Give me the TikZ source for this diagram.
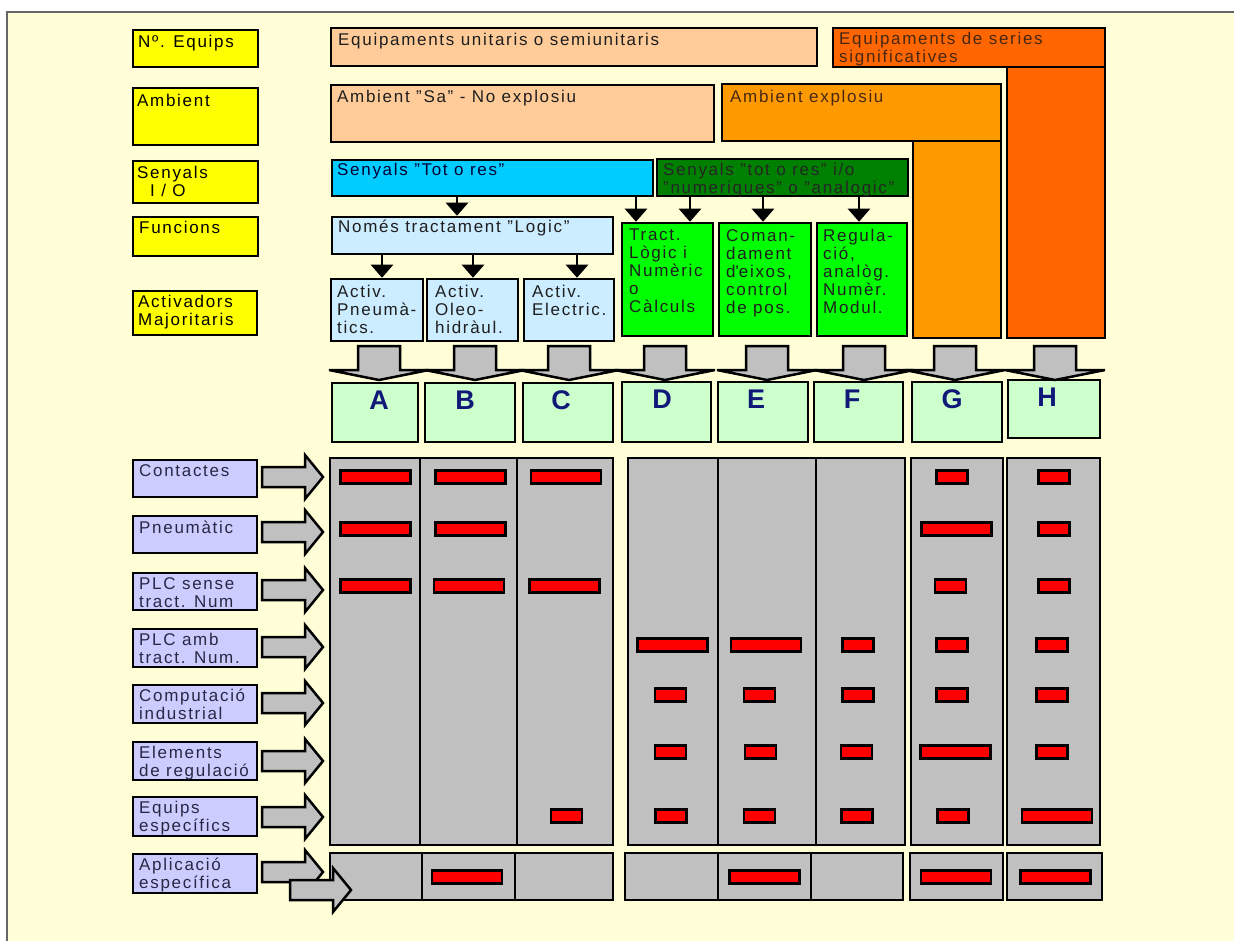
\documentclass[tikz,border=0pt]{standalone}
\usepackage{fontspec}
\setmainfont[LetterSpace=10]{Liberation Sans}
\newfontfamily\letterfont{Liberation Sans}
\usetikzlibrary{fit,arrows.meta}
\definecolor{bgc}{RGB}{255,254,214}
\definecolor{yel}{RGB}{255,255,0}
\definecolor{peach}{RGB}{255,204,153}
\definecolor{orng}{RGB}{255,153,0}
\definecolor{redorg}{RGB}{255,102,0}
\definecolor{cyanc}{RGB}{0,204,255}
\definecolor{dkgreen}{RGB}{0,128,0}
\definecolor{ltblue}{RGB}{204,236,255}
\definecolor{brgreen}{RGB}{0,255,0}
\definecolor{ltgreen}{RGB}{204,255,204}
\definecolor{lav}{RGB}{204,204,255}
\definecolor{gry}{RGB}{192,192,192}
\definecolor{navy}{RGB}{16,24,120}
\definecolor{txtc}{RGB}{30,30,30}
\definecolor{lavtxt}{RGB}{40,40,70}
\definecolor{brtxt}{RGB}{70,40,20}
\newcommand\downblk[1]{\draw[blk] (#1-21,346) -- (#1+21,346) -- (#1+21,370) -- (#1+50,370) -- (#1,380) -- (#1-50,370) -- (#1-21,370) -- cycle;}
\newcommand\rightblk[2]{\draw[blk] (#1,#2-10) -- (#1+43,#2-10) -- (#1+43,#2-22) -- (#1+61,#2) -- (#1+43,#2+22) -- (#1+43,#2+10) -- (#1,#2+10) -- cycle;}
\begin{document}
\begin{tikzpicture}[x=1pt,y=-1pt,
 box/.style={draw=black,line width=2.5pt,inner sep=0pt},
 txt/.style={font=\fontsize{17}{18}\selectfont,inner sep=0pt,anchor=north west,align=left,text=txtc},
 ltr/.style={font=\letterfont\fontsize{27}{27}\selectfont\bfseries,text=navy,inner sep=0pt},
 blk/.style={draw=black,fill=gry,line width=2.5pt,line join=miter},
 conn/.style={draw=black,line width=2.5pt,-{Triangle[width=22pt,length=13pt]}},
 bar/.style={draw=black,fill=red,line width=2.5pt,minimum height=13pt,inner sep=0pt},
 longbar/.style={bar,minimum width=70pt},
 shortbar/.style={bar,minimum width=31pt},
]
\useasboundingbox (0,0) rectangle (1234,941);
\fill[white] (0,0) rectangle (1234,941);
\fill[bgc] (7,12) rectangle (1234,941);
\draw[black!60,line width=1.2pt] (7,941) -- (7,12) -- (1234,12);

% left yellow labels
\node[box,fill=yel,fit={(133,30)(258,67)}] (yEq) {};
\node[box,fill=yel,fit={(133,88)(258,145)}] (yAmb) {};
\node[box,fill=yel,fit={(133,161)(258,203)}] (ySen) {};
\node[box,fill=yel,fit={(133,217)(258,256)}] (yFun) {};
\node[box,fill=yel,fit={(133,291)(257,335)}] (yAct) {};
\node[txt,text=black] (tyEq) at (138,35) {Nº. Equips};
\node[txt,text=black] (tyAmb) at (137,93.5) {Ambient};
\node[txt,text=black] (tySen) at (137,166) {Senyals\\\hspace*{13pt}I / O};
\node[txt,text=black] (tyFun) at (139,221) {Funcions};
\node[txt,text=black] (tyAct) at (138,295) {Activadors\\Majoritaris};

% top boxes
\node[box,fill=redorg,fit={(1007,67)(1105,338)}] (redCol) {};
\node[box,fill=redorg,fit={(833,28)(1105,67)}] (redTop) {};
\node[box,fill=orng,fit={(913,141)(1001,338)}] (orCol) {};
\node[box,fill=orng,fit={(722,84)(1001,141)}] (orTop) {};
\node[box,fill=peach,fit={(331,28)(817,66)}] (eqU) {};
\node[box,fill=peach,fit={(331,85)(714,142)}] (ambS) {};
\node[box,fill=cyanc,fit={(332,160)(653,196)}] (sig1) {};
\node[box,fill=dkgreen,fit={(657,159)(908,196)}] (sig2) {};
\node[box,fill=ltblue,fit={(332,217)(613,254)}] (nom) {};
\node[box,fill=ltblue,fit={(331,279)(423,341)}] (acA) {};
\node[box,fill=ltblue,fit={(427,279)(518,341)}] (acB) {};
\node[box,fill=ltblue,fit={(524,279)(614,341)}] (acC) {};
\node[box,fill=brgreen,fit={(622,223)(713,336)}] (gD) {};
\node[box,fill=brgreen,fit={(719,223)(811,336)}] (gE) {};
\node[box,fill=brgreen,fit={(817,223)(907,336)}] (gF) {};

\node[txt,text=brtxt] (tRed) at (839,31.5) {Equipaments de series\\significatives};
\node[txt] (tEqU) at (338,33) {Equipaments unitaris o semiunitaris};
\node[txt] (tAmbS) at (337,90) {Ambient "Sa" - No explosiu};
\node[txt,text=brtxt] (tAmbE) at (730,90) {Ambient explosiu};
\node[txt,text=black!80!blue] (tSig1) at (337,163) {Senyals "Tot o res"};
\node[txt,text=black!85] (tSig2) at (663,163) {Senyals "tot o res" i/o\\"numeriques" o "analogic"};
\node[txt] (tNom) at (338,220) {Només tractament "Logic"};
\node[txt] (tacA) at (337,285) {Activ.\\Pneumà-\\tics.};
\node[txt] (tacB) at (435,285) {Activ.\\Oleo-\\hidràul.};
\node[txt] (tacC) at (532,285) {Activ.\\Electric.};
\node[txt] (tgD) at (629,229) {Tract.\\Lògic i\\Numèric\\o\\Càlculs};
\node[txt] (tgE) at (726,229) {Coman-\\dament\\d\textquotesingle eixos,\\control\\de pos.};
\node[txt] (tgF) at (823,229) {Regula-\\ció,\\analòg.\\Numèr.\\Modul.};

% thin connectors
\coordinate (nomIn) at ([shift={(-15.5,0)}]nom.north);
\draw[conn] (nomIn |- sig1.south) -- (nomIn);
\coordinate (aAin) at ([shift={(5,0)}]acA.north);
\coordinate (aBin) at ([shift={(0.5,0)}]acB.north);
\coordinate (aCin) at ([shift={(8,0)}]acC.north);
\draw[conn] (aAin |- nom.south) -- (aAin);
\draw[conn] (aBin |- nom.south) -- (aBin);
\draw[conn] (aCin |- nom.south) -- (aCin);
\coordinate (gD1) at ([shift={(-31.5,0)}]gD.north);
\coordinate (gD2) at ([shift={(22.5,0)}]gD.north);
\coordinate (gEin) at ([shift={(-2,0)}]gE.north);
\coordinate (gFin) at ([shift={(-3,0)}]gF.north);
\draw[conn] (gD1 |- sig1.south) -- (gD1);
\draw[conn] (gD2 |- sig2.south) -- (gD2);
\draw[conn] (gEin |- sig2.south) -- (gEin);
\draw[conn] (gFin |- sig2.south) -- (gFin);

% letter boxes
\node[box,fill=ltgreen,fit={(332,383)(418,442)}] (LA) {};
\node[box,fill=ltgreen,fit={(425,383)(515,442)}] (LB) {};
\node[box,fill=ltgreen,fit={(523,383)(613,442)}] (LC) {};
\node[box,fill=ltgreen,fit={(622,382)(711,442)}] (LD) {};
\node[box,fill=ltgreen,fit={(718,382)(808,442)}] (LE) {};
\node[box,fill=ltgreen,fit={(814,382)(903,442)}] (LF) {};
\node[box,fill=ltgreen,fit={(912,382)(1002,442)}] (LG) {};
\node[box,fill=ltgreen,fit={(1008,380)(1100,438)}] (LH) {};
\node[ltr] (tA) at (379,400) {A};
\node[ltr] (tB) at (465,400) {B};
\node[ltr] (tC) at (561,400) {C};
\node[ltr] (tD) at (662,399) {D};
\node[ltr] (tE) at (756,399) {E};
\node[ltr] (tF) at (852,399) {F};
\node[ltr] (tG) at (952,399) {G};
\node[ltr] (tH) at (1047,397) {H};

% down block arrows
\downblk{379}
\downblk{475}
\downblk{569}
\downblk{665}
\downblk{767}
\downblk{864}
\downblk{955}
\downblk{1055}

% lavender labels
\node[box,fill=lav,fit={(133,460)(257,497)}] (lCon) {};
\node[box,fill=lav,fit={(133,516)(257,553)}] (lPne) {};
\node[box,fill=lav,fit={(133,573)(257,610)}] (lPs) {};
\node[box,fill=lav,fit={(133,629)(257,667)}] (lPa) {};
\node[box,fill=lav,fit={(133,685)(257,723)}] (lCo) {};
\node[box,fill=lav,fit={(133,742)(257,780)}] (lEl) {};
\node[box,fill=lav,fit={(133,797)(257,836)}] (lEq) {};
\node[box,fill=lav,fit={(133,854)(257,893)}] (lAp) {};
\node[txt,text=lavtxt] (tCon) at (139,464) {Contactes};
\node[txt,text=lavtxt] (tPne) at (139,520.5) {Pneumàtic};
\node[txt,text=lavtxt] (tPs) at (139,577) {PLC sense\\tract. Num};
\node[txt,text=lavtxt] (tPa) at (139,633) {PLC amb\\tract. Num.};
\node[txt,text=lavtxt] (tCo) at (139,689) {Computació\\industrial};
\node[txt,text=lavtxt] (tEl) at (139,745.5) {Elements\\de regulació};
\node[txt,text=lavtxt] (tEq) at (139,801) {Equips\\específics};
\node[txt,text=lavtxt] (tAp) at (139,858) {Aplicació\\específica};

% grid cells
\node[box,fill=gry,fit={(330,458)(420,845)}] (cA) {};
\node[box,fill=gry,fit={(420,458)(517,845)}] (cB) {};
\node[box,fill=gry,fit={(517,458)(613,845)}] (cC) {};
\node[box,fill=gry,fit={(628,458)(718,845)}] (cD) {};
\node[box,fill=gry,fit={(718,458)(816,845)}] (cE) {};
\node[box,fill=gry,fit={(816,458)(905,845)}] (cF) {};
\node[box,fill=gry,fit={(911,458)(1003,845)}] (cG) {};
\node[box,fill=gry,fit={(1007,458)(1100,845)}] (cH) {};
\node[box,fill=gry,fit={(330,853)(422,900)}] (bA) {};
\node[box,fill=gry,fit={(422,853)(515,900)}] (bB) {};
\node[box,fill=gry,fit={(515,853)(613,900)}] (bC) {};
\node[box,fill=gry,fit={(625,853)(718,900)}] (bD) {};
\node[box,fill=gry,fit={(718,853)(811,900)}] (bE) {};
\node[box,fill=gry,fit={(811,853)(903,900)}] (bF) {};
\node[box,fill=gry,fit={(910,853)(1003,900)}] (bG) {};
\node[box,fill=gry,fit={(1007,853)(1102,900)}] (bH) {};

% red bars
\node[longbar] (r1A) at (375.5,477) {};
\node[longbar] (r1B) at (470.5,477) {};
\node[longbar] (r1C) at (566,477) {};
\node[shortbar] (r1G) at (952,477) {};
\node[shortbar] (r1H) at (1054,477) {};
\node[longbar] (r2A) at (375.5,529) {};
\node[longbar] (r2B) at (470.5,529) {};
\node[longbar] (r2G) at (956.5,529) {};
\node[shortbar] (r2H) at (1054,529) {};
\node[longbar] (r3A) at (375.5,586) {};
\node[longbar] (r3B) at (469,586) {};
\node[longbar] (r3C) at (564.5,586) {};
\node[shortbar] (r3G) at (950.5,586) {};
\node[shortbar] (r3H) at (1054,586) {};
\node[longbar] (r4D) at (672.5,645) {};
\node[longbar] (r4E) at (766,645) {};
\node[shortbar] (r4F) at (858,645) {};
\node[shortbar] (r4G) at (952,645) {};
\node[shortbar] (r4H) at (1052,645) {};
\node[shortbar] (r5D) at (670.5,695) {};
\node[shortbar] (r5E) at (759.5,695) {};
\node[shortbar] (r5F) at (858,695) {};
\node[shortbar] (r5G) at (952,695) {};
\node[shortbar] (r5H) at (1052,695) {};
\node[shortbar] (r6D) at (670.5,752) {};
\node[shortbar] (r6E) at (760.5,752) {};
\node[shortbar] (r6F) at (856.5,752) {};
\node[longbar] (r6G) at (955.5,752) {};
\node[shortbar] (r6H) at (1052,752) {};
\node[shortbar] (r7C) at (566.5,816) {};
\node[shortbar] (r7D) at (671,816) {};
\node[shortbar] (r7E) at (759.5,816) {};
\node[shortbar] (r7F) at (857,816) {};
\node[shortbar] (r7G) at (953,816) {};
\node[longbar] (r7H) at (1057,816) {};
\node[longbar] (r8B) at (467,877) {};
\node[longbar] (r8E) at (764.5,877) {};
\node[longbar] (r8G) at (956,877) {};
\node[longbar] (r8H) at (1055.5,877) {};

% right block arrows
\rightblk{262}{477}
\rightblk{262}{532}
\rightblk{262}{590}
\rightblk{262}{647}
\rightblk{262}{703}
\rightblk{262}{761}
\rightblk{262}{817}
\rightblk{262}{872}
\rightblk{290}{890}
\end{tikzpicture}
\end{document}
